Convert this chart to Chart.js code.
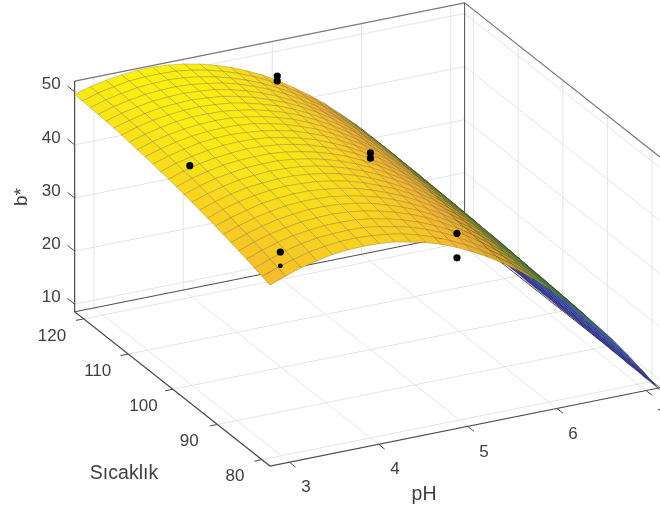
<!DOCTYPE html>
<html>
<head>
<meta charset="utf-8">
<script src="https://cdn.jsdelivr.net/npm/chart.js@4"></script>
<style>
  html, body { margin: 0; padding: 0; background: #fff; overflow: hidden; }
  canvas { display: block; }
</style>
</head>
<body>
<canvas id="c" width="660" height="510"></canvas>
<script>
/* eje pH, eje Sıcaklık, eje b* */
const phTicks = [3, 4, 5, 6, 7];
const tempTicks = [80, 90, 100, 110, 120];
const bTicks = [10, 20, 30, 40, 50];
const phLim = [2.784, 7.156];
const tempLim = [78.2, 122];
const bLim = [8.55, 52];

/* nodos de la superficie */
const phNodes = [2.784,2.959,3.134,3.309,3.484,3.658,3.833,4.008,4.183,4.358,4.533,4.708,4.883,5.057,5.232,5.407,5.582,5.757,5.932,6.107,6.282,6.456,6.631,6.806,6.981,7.156];
const tempNodes = [78.2,79.95,81.7,83.46,85.21,86.96,88.71,90.46,92.22,93.97,95.72,97.47,99.22,100.98,102.73,104.48,106.23,107.98,109.74,111.49,113.24,114.99,116.74,118.5,120.25,122];
/* b*: una fila por temperatura */
const surfaceB = [
  [42.6,43.7,44.7,45.4,46.0,46.3,46.4,46.3,46.0,45.4,44.7,43.8,42.6,41.2,39.6,37.8,35.8,33.6,31.1,28.5,25.6,22.5,19.3,15.7,12.0,8.1],
  [43.1,44.2,45.1,45.9,46.4,46.7,46.8,46.6,46.3,45.8,45.0,44.0,42.8,41.4,39.8,38.0,36.0,33.7,31.3,28.6,25.7,22.6,19.4,15.8,12.1,8.2],
  [43.5,44.6,45.6,46.3,46.8,47.0,47.1,47.0,46.6,46.0,45.3,44.3,43.1,41.7,40.0,38.2,36.2,33.9,31.4,28.8,25.9,22.8,19.5,15.9,12.2,8.2],
  [44.0,45.1,46.0,46.7,47.1,47.4,47.4,47.3,46.9,46.3,45.5,44.5,43.3,41.9,40.3,38.4,36.3,34.1,31.6,28.9,26.0,22.9,19.5,16.0,12.2,8.3],
  [44.4,45.5,46.4,47.0,47.5,47.7,47.8,47.6,47.2,46.6,45.8,44.8,43.6,42.1,40.5,38.6,36.5,34.2,31.7,29.0,26.1,23.0,19.6,16.1,12.3,8.3],
  [44.8,45.9,46.7,47.4,47.8,48.1,48.1,47.9,47.5,46.9,46.0,45.0,43.8,42.3,40.6,38.8,36.7,34.4,31.9,29.1,26.2,23.1,19.7,16.1,12.4,8.4],
  [45.2,46.2,47.1,47.7,48.2,48.4,48.4,48.2,47.7,47.1,46.3,45.2,44.0,42.5,40.8,38.9,36.8,34.5,32.0,29.3,26.3,23.2,19.8,16.2,12.4,8.4],
  [45.6,46.6,47.4,48.1,48.5,48.7,48.7,48.4,48.0,47.4,46.5,45.4,44.2,42.7,41.0,39.1,37.0,34.7,32.1,29.4,26.4,23.3,19.9,16.3,12.5,8.5],
  [45.9,47.0,47.8,48.4,48.8,49.0,48.9,48.7,48.2,47.6,46.7,45.6,44.4,42.9,41.2,39.2,37.1,34.8,32.2,29.5,26.5,23.3,20.0,16.4,12.5,8.5],
  [46.3,47.3,48.1,48.7,49.0,49.2,49.2,48.9,48.5,47.8,46.9,45.8,44.5,43.0,41.3,39.4,37.2,34.9,32.3,29.6,26.6,23.4,20.0,16.4,12.6,8.6],
  [46.6,47.6,48.4,49.0,49.3,49.5,49.4,49.2,48.7,48.0,47.1,46.0,44.7,43.2,41.5,39.5,37.4,35.0,32.5,29.7,26.7,23.5,20.1,16.5,12.6,8.6],
  [46.9,47.9,48.7,49.2,49.6,49.7,49.7,49.4,48.9,48.2,47.3,46.2,44.9,43.3,41.6,39.7,37.5,35.1,32.6,29.8,26.8,23.6,20.2,16.5,12.7,8.7],
  [47.2,48.2,48.9,49.5,49.8,49.9,49.9,49.6,49.1,48.4,47.5,46.4,45.0,43.5,41.7,39.8,37.6,35.2,32.6,29.8,26.8,23.6,20.2,16.6,12.7,8.7],
  [47.5,48.4,49.2,49.7,50.0,50.2,50.1,49.8,49.3,48.6,47.6,46.5,45.2,43.6,41.8,39.9,37.7,35.3,32.7,29.9,26.9,23.7,20.3,16.6,12.8,8.7],
  [47.7,48.7,49.4,49.9,50.3,50.4,50.3,50.0,49.4,48.7,47.8,46.6,45.3,43.7,42.0,40.0,37.8,35.4,32.8,30.0,27.0,23.7,20.3,16.7,12.8,8.8],
  [48.0,48.9,49.6,50.2,50.5,50.6,50.4,50.1,49.6,48.9,47.9,46.8,45.4,43.8,42.1,40.1,37.9,35.5,32.9,30.1,27.0,23.8,20.4,16.7,12.8,8.8],
  [48.2,49.1,49.8,50.3,50.6,50.7,50.6,50.3,49.7,49.0,48.0,46.9,45.5,43.9,42.2,40.2,38.0,35.6,32.9,30.1,27.1,23.8,20.4,16.7,12.9,8.8],
  [48.4,49.3,50.0,50.5,50.8,50.9,50.8,50.4,49.9,49.1,48.2,47.0,45.6,44.0,42.2,40.2,38.0,35.6,33.0,30.2,27.1,23.9,20.4,16.8,12.9,8.8],
  [48.6,49.5,50.2,50.7,51.0,51.0,50.9,50.5,50.0,49.2,48.3,47.1,45.7,44.1,42.3,40.3,38.1,35.7,33.1,30.2,27.2,23.9,20.5,16.8,12.9,8.9],
  [48.8,49.7,50.4,50.8,51.1,51.2,51.0,50.7,50.1,49.3,48.4,47.2,45.8,44.2,42.4,40.4,38.2,35.7,33.1,30.3,27.2,24.0,20.5,16.8,13.0,8.9],
  [49.0,49.8,50.5,51.0,51.2,51.3,51.1,50.8,50.2,49.4,48.4,47.3,45.9,44.3,42.5,40.4,38.2,35.8,33.2,30.3,27.3,24.0,20.5,16.9,13.0,8.9],
  [49.1,50.0,50.6,51.1,51.3,51.4,51.2,50.9,50.3,49.5,48.5,47.3,45.9,44.3,42.5,40.5,38.3,35.8,33.2,30.3,27.3,24.0,20.6,16.9,13.0,8.9],
  [49.2,50.1,50.7,51.2,51.4,51.5,51.3,50.9,50.4,49.6,48.6,47.4,46.0,44.4,42.5,40.5,38.3,35.9,33.2,30.4,27.3,24.0,20.6,16.9,13.0,8.9],
  [49.3,50.2,50.8,51.3,51.5,51.6,51.4,51.0,50.4,49.6,48.6,47.4,46.0,44.4,42.6,40.6,38.3,35.9,33.2,30.4,27.3,24.1,20.6,16.9,13.0,9.0],
  [49.4,50.3,50.9,51.4,51.6,51.6,51.5,51.1,50.5,49.7,48.7,47.5,46.1,44.4,42.6,40.6,38.3,35.9,33.3,30.4,27.3,24.1,20.6,16.9,13.1,9.0],
  [49.5,50.4,51.0,51.4,51.7,51.7,51.5,51.1,50.5,49.7,48.7,47.5,46.1,44.5,42.6,40.6,38.4,35.9,33.3,30.4,27.4,24.1,20.6,16.9,13.1,9.0],
];

/* puntos medidos */
const pointPh = [5, 5, 3, 5, 5, 3, 3, 5, 5];
const pointTemp = [120.9, 120.9, 100.5, 100, 100, 80.2, 80.2, 80.6, 80.6];
const pointB = [46.2, 45.3, 49.6, 45.6, 44.6, 46.8, 44.2, 43.3, 38.7];

/* mapa de color */
const cmapB = [9, 14, 20, 27, 32, 37, 42, 46, 50, 52];
const cmapRgb = [[45,40,150],[40,60,190],[20,110,170],[40,140,90],[120,150,50],[210,160,40],[245,180,45],[248,205,35],[250,232,22],[252,242,14]];

function colorFor(v) {
  let i = 0;
  while (i < cmapB.length - 2 && v > cmapB[i + 1]) i++;
  const f = Math.max(0, Math.min(1, (v - cmapB[i]) / (cmapB[i + 1] - cmapB[i])));
  const c = cmapRgb[i].map((a, k) => Math.round(a + (cmapRgb[i + 1][k] - a) * f));
  return `rgb(${c[0]},${c[1]},${c[2]})`;
}

/* proyección ortográfica de la vista */
const proj = (ph, t, b) => ({
  x: 270 + 89.2 * (ph - phLim[0]) - 4.46 * (t - tempLim[0]),
  y: 466 - 17.9 * (ph - phLim[0]) - 3.52 * (t - tempLim[0]) - 5.31 * (b - bLim[0]),
});
const depth = (ph, t, b) => 41.3 * ph + 8.11 * t - 2.3 * b;

const datasets = [];
const line = (pts, color, width, order) => datasets.push({
  data: pts, showLine: true, borderColor: color, borderWidth: width, pointRadius: 0, fill: false, order,
});

/* rejilla gris, detrás de la superficie */
const GRID = '#e4e4e4', GO = 100000;
const [p0, p1] = phLim, [t0, t1] = tempLim, [z0, z1] = bLim;
phTicks.forEach(p => {
  line([proj(p, t0, z0), proj(p, t1, z0), proj(p, t1, z1)], GRID, 1, GO + 1);
});
tempTicks.forEach(t => {
  line([proj(p0, t, z0), proj(p1, t, z0), proj(p1, t, z1)], GRID, 1, GO + 1);
});
bTicks.forEach(b => {
  line([proj(p0, t1, b), proj(p1, t1, b), proj(p1, t0, b)], GRID, 1, GO + 1);
});

/* caja y ejes */
const AX = '#4a4a4a', TOP = '#777777';
line([proj(p0, t1, z1), proj(p0, t1, z0), proj(p0, t0, z0), proj(p1, t0, z0)], AX, 1.2, GO);
line([proj(p0, t1, z0), proj(p1, t1, z0), proj(p1, t0, z0)], AX, 1, GO);
line([proj(p1, t1, z0), proj(p1, t1, z1)], AX, 1, GO);
line([proj(p0, t1, z1), proj(p1, t1, z1), proj(p1, t0, z1)], TOP, 1.2, GO);
phTicks.forEach(p => line([proj(p, t0, z0), proj(p, t0 - 1.4, z0)], AX, 1, GO));
tempTicks.forEach(t => line([proj(p0, t, z0), proj(p0 - 0.085, t, z0)], AX, 1, GO));
bTicks.forEach(b => line([proj(p0, t1, b), proj(p0, t1 + 1.6, b)], AX, 1, GO));

/* celdas, de la más lejana a la más cercana */
const cells = [];
for (let j = 0; j < tempNodes.length - 1; j++) {
  for (let i = 0; i < phNodes.length - 1; i++) {
    const c = [[i, j], [i + 1, j], [i + 1, j + 1], [i, j + 1]];
    const vals = c.map(([a, b]) => surfaceB[b][a]);
    const mean = vals.reduce((s, v) => s + v, 0) / 4;
    const ph = (phNodes[i] + phNodes[i + 1]) / 2, t = (tempNodes[j] + tempNodes[j + 1]) / 2;
    const pts = c.map(([a, b]) => proj(phNodes[a], tempNodes[b], surfaceB[b][a]));
    cells.push({ pts: [...pts, pts[0]], color: colorFor(mean), d: depth(ph, t, mean) });
  }
}
cells.sort((a, b) => a.d - b.d);
cells.forEach((c, idx) => datasets.push({
  data: c.pts, showLine: true, fill: 'shape', backgroundColor: c.color,
  borderColor: 'rgba(70,60,30,.42)', borderWidth: 0.55, pointRadius: 0, order: idx + 1,
}));

datasets.push({
  data: pointPh.map((p, i) => proj(p, pointTemp[i], pointB[i])),
  showLine: false, pointRadius: [3.6, 3.6, 3.6, 3.6, 3.6, 3.6, 2.4, 3.6, 3.6],
  pointBackgroundColor: '#000', pointBorderWidth: 0, order: 0,
});

/* textos de ejes */
const FONT = '"Liberation Sans", Arial, sans-serif';
const textPlugin = {
  id: 'textos',
  afterDatasetsDraw(chart) {
    const { ctx, scales: { x, y } } = chart;
    const put = (txt, q, size, align) => {
      ctx.font = `${size}px ${FONT}`;
      ctx.textAlign = align || 'center';
      ctx.fillText(txt, x.getPixelForValue(q.x), y.getPixelForValue(q.y));
    };
    ctx.save();
    ctx.fillStyle = '#404040';
    ctx.textBaseline = 'middle';
    phTicks.forEach(p => { const q = proj(p, t0, z0); put(String(p), { x: q.x + 16.8 - (p - 3) * 0.2, y: q.y + 25.5 }, 17); });
    tempTicks.forEach(t => { const q = proj(p0, t, z0); put(String(t), { x: q.x - 31.6 + (120 - t) * 0.115, y: q.y + 17 }, 17); });
    bTicks.forEach(b => { const q = proj(p0, t1, b); put(String(b), { x: q.x - 14, y: q.y - 7 }, 17, 'right'); });
    put('Sıcaklık', { x: 124, y: 474 }, 19.5);
    put('pH', { x: 424, y: 495 }, 19.5);
    ctx.translate(x.getPixelForValue(22), y.getPixelForValue(197));
    ctx.rotate(-Math.PI / 2);
    ctx.font = `19px ${FONT}`;
    ctx.textAlign = 'center';
    ctx.fillText('b*', 0, 0);
    ctx.restore();
  },
};

new Chart(document.getElementById('c'), {
  type: 'scatter',
  data: { datasets },
  plugins: [textPlugin],
  options: {
    responsive: false,
    animation: false,
    layout: { padding: 0, autoPadding: false },
    plugins: { legend: { display: false }, tooltip: { enabled: false } },
    scales: {
      x: { type: 'linear', min: 0, max: 660, display: false },
      y: { type: 'linear', min: 0, max: 510, reverse: true, display: false },
    },
  },
});
</script>
</body>
</html>
